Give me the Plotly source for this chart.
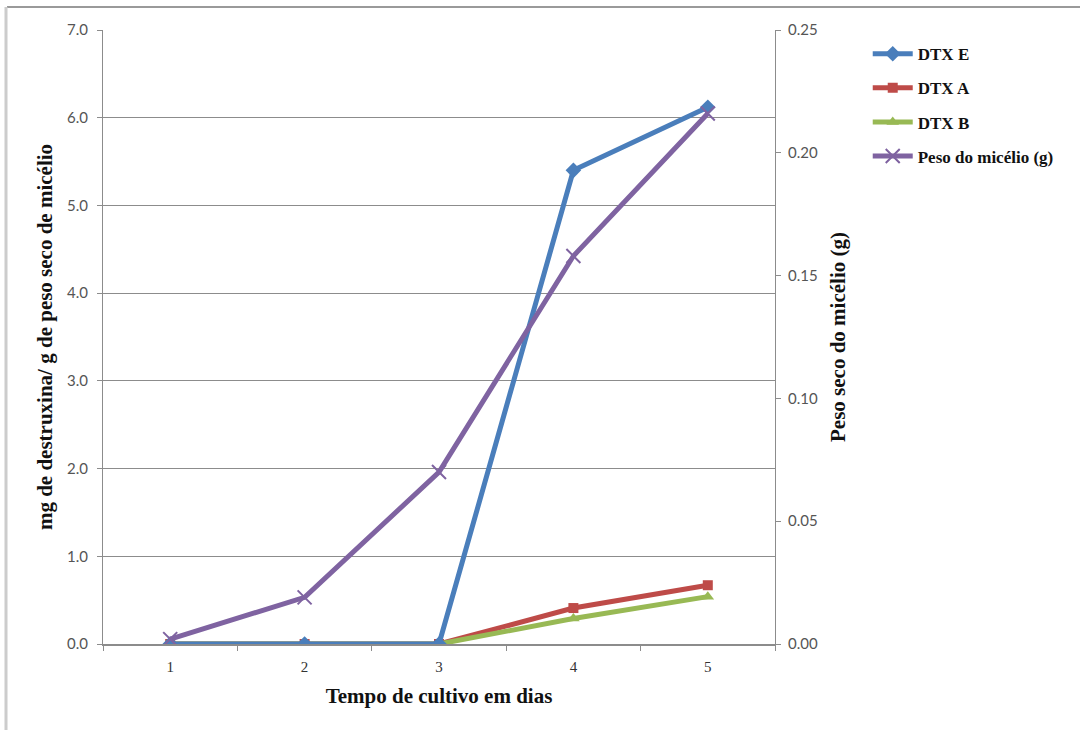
import plotly.graph_objects as go

# Culture time (days) and measured values
dias = ["1", "2", "3", "4", "5"]
dtx_e = [0.0, 0.0, 0.0, 5.40, 6.12]
dtx_a = [0.0, 0.0, 0.0, 0.41, 0.67]
dtx_b = [0.0, 0.0, 0.0, 0.29, 0.54]
peso_micelio = [0.002, 0.019, 0.070, 0.158, 0.216]

left_ticks = [0, 1, 2, 3, 4, 5, 6, 7]
left_labels = ["0.0", "1.0", "2.0", "3.0", "4.0", "5.0", "6.0", "7.0"]
right_ticks = [0, 0.05, 0.10, 0.15, 0.20, 0.25]
right_labels = ["0.00", "0.05", "0.10", "0.15", "0.20", "0.25"]

BLUE = "#4A7EBB"
RED = "#BE4B48"
GREEN = "#98B954"
PURPLE = "#7F63A1"
SERIF = "Liberation Serif"
SANS = "Lato"

fig = go.Figure()

# Draw A and B first so the blue line stays on top along zero
fig.add_trace(go.Scatter(
    x=dias, y=dtx_a, name="DTX A", mode="lines+markers",
    line=dict(color=RED, width=5),
    marker=dict(symbol="square", size=10, color=RED),
    legendgroup="a", legendrank=2,
))
fig.add_trace(go.Scatter(
    x=dias, y=dtx_b, name="DTX B", mode="lines+markers",
    line=dict(color=GREEN, width=5),
    marker=dict(symbol="triangle-up", size=11, color=GREEN),
    legendgroup="b", legendrank=3,
))
fig.add_trace(go.Scatter(
    x=dias, y=dtx_e, name="DTX E", mode="lines+markers",
    line=dict(color=BLUE, width=5),
    marker=dict(symbol="diamond", size=12, color=BLUE),
    legendgroup="e", legendrank=1,
))
fig.add_trace(go.Scatter(
    x=dias, y=peso_micelio, name="Peso do micélio (g)", mode="lines+markers",
    line=dict(color=PURPLE, width=5),
    marker=dict(symbol="x-thin", size=14, color=PURPLE,
                line=dict(color=PURPLE, width=2)),
    yaxis="y2", legendgroup="p", legendrank=4,
))

axis_grey = "#8C8C8C"
title_font = dict(family=SERIF, size=21, color="#111111", weight="bold")
tick_font = dict(family=SANS, size=15, color="#555555")

fig.update_layout(
    width=1080, height=730,
    margin=dict(l=103, r=305, t=30, b=86),
    paper_bgcolor="white", plot_bgcolor="white",
    showlegend=True,
    legend=dict(
        x=1.138, y=0.99, xanchor="left", yanchor="top",
        font=dict(family=SERIF, size=17, color="#111111", weight="bold"),
        tracegroupgap=9, traceorder="grouped",
        bgcolor="rgba(0,0,0,0)", itemwidth=40,
    ),
    xaxis=dict(
        type="category", range=[-0.5, 4.5],
        tickson="boundaries", ticks="outside", ticklen=5, tickcolor=axis_grey,
        ticklabelstandoff=8,
        showline=True, linecolor=axis_grey, linewidth=2,
        showgrid=False, zeroline=False,
        tickfont=dict(family=SERIF, size=15, color="#333333"),
        title=dict(text="Tempo de cultivo em dias", standoff=14, font=title_font),
    ),
    yaxis=dict(
        range=[0, 7], tickvals=left_ticks, ticktext=left_labels,
        ticks="outside", ticklen=5, tickcolor=axis_grey,
        ticklabelstandoff=6,
        showline=True, linecolor=axis_grey, linewidth=1,
        showgrid=True, gridcolor=axis_grey, gridwidth=1, zeroline=False,
        tickfont=tick_font,
        title=dict(text="mg de destruxina/ g de peso seco de micélio", standoff=8,
                   font=title_font),
    ),
    yaxis2=dict(
        overlaying="y", side="right",
        range=[0, 0.25], tickvals=right_ticks, ticktext=right_labels,
        ticks="outside", ticklen=5, tickcolor=axis_grey,
        ticklabelstandoff=4,
        showline=True, linecolor=axis_grey, linewidth=1,
        showgrid=False, zeroline=False,
        tickfont=tick_font,
        title=dict(text="Peso seco do micélio (g)", standoff=13, font=title_font),
    ),
    shapes=[
        # outer frame: top and left edges
        dict(type="line", xref="paper", yref="paper",
             x0=(7 - 103) / 672, x1=(1080 - 103) / 672,
             y0=(644 - 7) / 614, y1=(644 - 7) / 614,
             line=dict(color="#9A9A9A", width=2)),
        dict(type="line", xref="paper", yref="paper",
             x0=(6 - 103) / 672, x1=(6 - 103) / 672,
             y0=(644 - 7) / 614, y1=(644 - 730) / 614,
             line=dict(color="#CCCCCC", width=3)),
    ],
)

fig.write_html("out.html")
